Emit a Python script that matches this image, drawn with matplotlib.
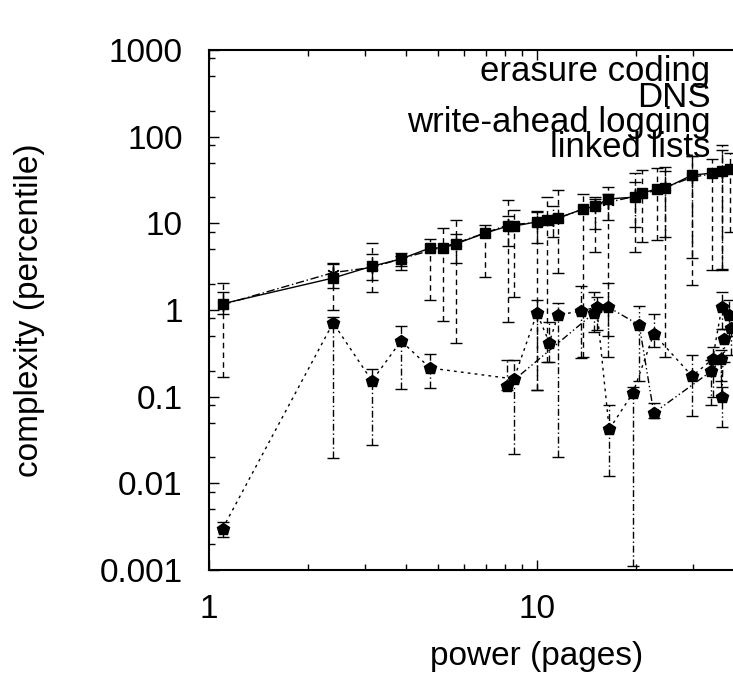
import matplotlib
matplotlib.use("Agg")
import matplotlib.pyplot as plt
from matplotlib.ticker import LogLocator, NullFormatter

plt.rcParams['font.family'] = ['Liberation Sans', 'DejaVu Sans']
plt.rcParams['font.size'] = 24

# erasure coding (squares, solid)
xa = [1.1, 2.39, 3.14, 3.85, 4.72, 5.17, 5.66, 6.94, 8.16, 8.51, 10.0, 10.7, 11.6, 13.8, 15.0, 16.5, 19.9, 20.9, 23.2, 24.6, 29.7, 34.2, 36.6, 38.8]
ya = [1.18, 2.34, 3.2, 3.88, 5.2, 5.2, 5.8, 7.7, 9.3, 9.3, 10.4, 10.9, 11.5, 14.6, 15.8, 19.1, 20.1, 22.4, 24.9, 25.5, 36, 38, 40, 42]
ya_lo = [0.17, 1.0, 1.6, 2.9, 1.3, 0.75, 0.42, 2.4, 0.73, 1.4, 0.12, 0.25, 2.7, 0.29, 4.7, 0.5, 4.7, 6.1, 6.4, 0.29, 1.94, 2.9, 2.9, 8]
ya_hi = [2.05, 3.5, 5.9, 4.2, 6.6, 8.8, 10.9, 9.5, 18.6, 14.2, 13.5, 20, 24, 22, 20, 26, 38, 41, 44, 40, 60, 55, 70, 65]

# DNS (asterisks, dash-dot)
xb = [1.1, 2.39, 3.14, 3.85, 5.66, 8.16, 10.0, 11.2, 15.0, 16.5, 19.9, 24.6, 29.7, 36.6]
yb = [1.15, 2.7, 3.1, 3.9, 5.9, 9.6, 10.2, 11.0, 16.2, 17.5, 20.5, 26, 34, 39]
yb_lo = [0.9, 1.8, 2.2, 3.2, 3.5, 5.5, 6.0, 7.0, 8.5, 11, 9, 7, 4, 3]
yb_hi = [1.6, 3.4, 4.4, 4.6, 7.5, 12, 14, 16, 19, 22, 30, 45, 60, 80]

# write-ahead logging (dotted)
xc = [1.1, 2.39, 3.14, 3.85, 4.72, 8.5, 10.0, 10.9, 11.6, 13.6, 15.2, 16.6, 19.6, 22.7, 29.7, 34.3, 36.6, 38.5]
yc = [0.003, 0.71, 0.152, 0.44, 0.214, 0.16, 0.92, 0.42, 0.88, 0.97, 1.08, 0.042, 0.11, 0.53, 0.173, 0.27, 1.08, 0.88]
yc_lo = [0.0024, 0.0196, 0.028, 0.123, 0.126, 0.022, 0.12, 0.25, 0.02, 0.28, 0.59, 0.012, 0.0011, 0.37, 0.06, 0.1, 0.6, 0.5]
yc_hi = [0.0036, 0.83, 0.21, 0.65, 0.31, 0.265, 1.3, 0.73, 1.2, 1.9, 1.4, 0.08, 0.13, 0.9, 0.3, 0.37, 1.6, 1.3]

# linked lists (dash-dot-dot)
xd = [8.1, 14.9, 16.5, 20.5, 22.7, 34.0, 36.4, 36.6, 37.1, 39.0]
yd = [0.133, 0.92, 1.08, 0.67, 0.065, 0.197, 0.27, 0.1, 0.46, 0.62]
yd_lo = [0.12, 0.56, 0.29, 0.15, 0.057, 0.08, 0.15, 0.045, 0.25, 0.3]
yd_hi = [0.265, 1.6, 2.05, 1.1, 0.085, 0.265, 0.35, 0.13, 0.6, 0.9]

labels = ["erasure coding", "DNS", "write-ahead logging", "linked lists"]

fig = plt.figure(figsize=(7.33, 6.78), dpi=100)
# axes runs past the right edge of the picture, as in the reference
ax = fig.add_axes([209/733, 1 - 570/678, 656/733, 520/678])

series = [
    (xa, ya, ya_lo, ya_hi, '-', (0, (4, 3)), 's', 7),
    (xb, yb, yb_lo, yb_hi, (0, (6, 2, 1, 2)), (0, (6, 2, 1, 2)), (6, 2, 0), 9),
    (xc, yc, yc_lo, yc_hi, (0, (2, 3)), (0, (5, 2, 1, 2)), 'p', 9),
    (xd, yd, yd_lo, yd_hi, (0, (5, 2, 1, 2, 1, 2)), (0, (5, 2, 1, 2, 1, 2)), 'p', 9),
]
for (x, y, lo, hi, ls, els, mk, ms), lab in zip(series, labels):
    err = [[v - l for v, l in zip(y, lo)], [h - v for v, h in zip(y, hi)]]
    line, caps, bars = ax.errorbar(x, y, yerr=err, color='black', linestyle=ls, linewidth=1,
                                   marker=mk, markersize=ms, capsize=4, elinewidth=1,
                                   capthick=1, label=lab, zorder=3)
    for b in bars:
        b.set_linestyle(els)

ax.set_xscale('log')
ax.set_yscale('log')
ax.set_xlim(1, 100)
ax.set_ylim(0.001, 1000)
ax.set_xticks([1, 10])
ax.set_xticklabels(['1', '10'])
ax.set_yticks([0.001, 0.01, 0.1, 1, 10, 100, 1000])
ax.set_yticklabels(['0.001', '0.01', '0.1', '1', '10', '100', '1000'])
ax.xaxis.set_minor_locator(LogLocator(base=10, subs=range(2, 10)))
ax.yaxis.set_minor_locator(LogLocator(base=10, subs=[2, 5, 8]))
ax.xaxis.set_minor_formatter(NullFormatter())
ax.yaxis.set_minor_formatter(NullFormatter())
ax.tick_params(which='both', direction='in', top=True, right=True, width=1)
ax.tick_params(which='major', length=7)
ax.tick_params(which='minor', length=4)
ax.tick_params(axis='y', pad=19)
ax.tick_params(axis='x', pad=17)
for s in ax.spines.values():
    s.set_linewidth(1.5)

ax.set_xlabel("power (pages)")
ax.set_ylabel("complexity (percentile)")
ax.xaxis.set_label_coords(0.5, -0.137)
ax.yaxis.set_label_coords(-0.25, 0.5)

leg = ax.legend(loc='upper right', bbox_to_anchor=(0.976, 0.99), frameon=False,
                markerfirst=False, handlelength=3, handletextpad=1.0, fontsize=25,
                labelspacing=-0.22, borderpad=0, borderaxespad=0)
leg.set_zorder(1)

fig.savefig("out.png", dpi=100)
